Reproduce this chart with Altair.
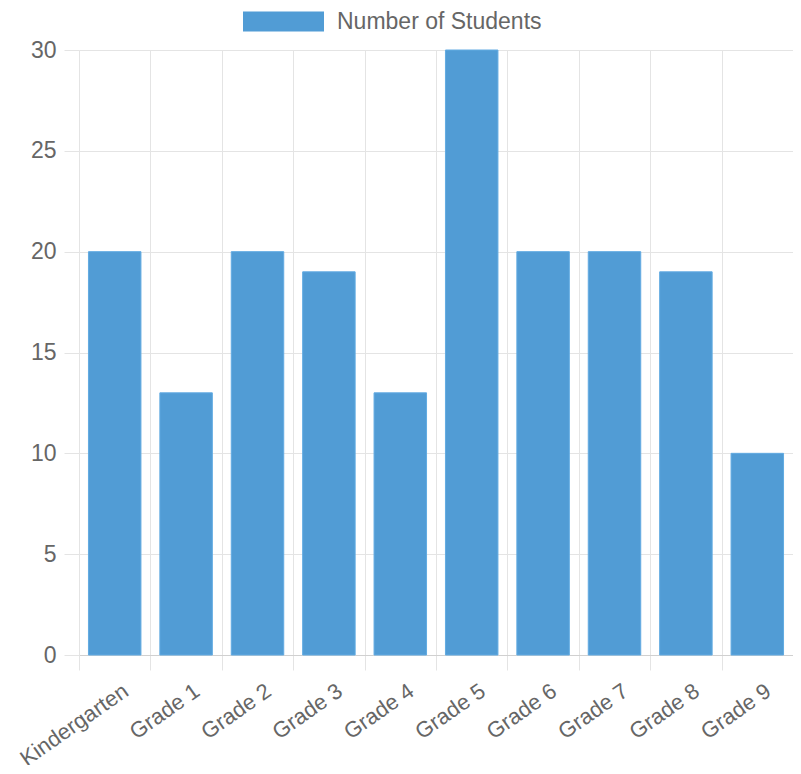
import altair as alt
import pandas as pd

grades = ["Kindergarten", "Grade 1", "Grade 2", "Grade 3", "Grade 4",
          "Grade 5", "Grade 6", "Grade 7", "Grade 8", "Grade 9"]
students = [20, 13, 20, 19, 13, 30, 20, 20, 19, 10]
series_name = "Number of Students"
y_ticks = [0, 5, 10, 15, 20, 25, 30]

df = pd.DataFrame({"grade": grades, "students": students, "series": series_name})

FONT = "Liberation Sans"
TEXT = "#666666"
GRID = "#e4e4e4"

chart = alt.Chart(df).mark_bar(
    width=alt.RelativeBandSize(0.735),
    stroke="#62abe2",
    strokeWidth=1,
).encode(
    x=alt.X("grade:N", sort=grades, title=None,
            scale=alt.Scale(paddingInner=0, paddingOuter=0),
            axis=alt.Axis(labelAngle=-35, labelAlign="right", labelBaseline="top",
                          labelOffset=5,
                          tickBand="extent", grid=True,
                          gridColor=GRID, tickColor=GRID, tickSize=15,
                          domainColor="#d0d0d0", labelPadding=10,
                          labelFontSize=22, labelColor=TEXT, labelFont=FONT)),
    y=alt.Y("students:Q", title=None,
            scale=alt.Scale(domain=[0, 30], nice=False),
            axis=alt.Axis(values=y_ticks, grid=True, gridColor=GRID,
                          tickColor=GRID, tickSize=15, domainColor=GRID,
                          labelPadding=8, labelFontSize=23, labelColor=TEXT,
                          labelFont=FONT)),
    color=alt.Color("series:N", title=None,
                    scale=alt.Scale(range=["#519cd5"]),
                    legend=alt.Legend(orient="none", legendX=164, legendY=-69,
                                      symbolType="M-1,-0.247H1V0.247H-1Z",
                                      symbolSize=6561, symbolStrokeWidth=0,
                                      symbolOpacity=1, labelLimit=500,
                                      labelOffset=13, labelFontSize=23,
                                      labelColor=TEXT, labelFont=FONT)),
).properties(
    width=714,
    height=605,
    autosize=alt.AutoSizeParams(type="none"),
    padding={"left": 71, "top": 42, "right": 0, "bottom": 110},
).configure_view(strokeWidth=0)

chart.save("out.html", embed_options={"renderer": "svg", "actions": False})
